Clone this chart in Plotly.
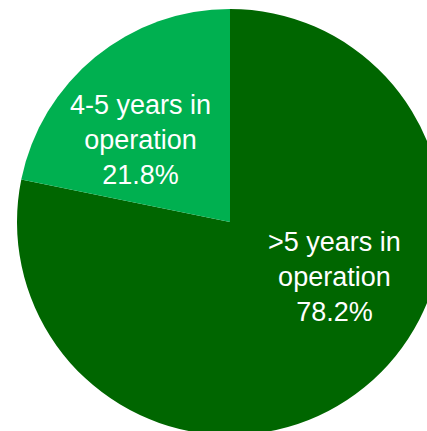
import plotly.graph_objects as go

categories = [">5 years in<br>operation", "4-5 years in<br>operation"]
values = [78.2, 21.8]
colors = ["#006600", "#00B050"]
label_pos = [(0.746, 0.371), (0.291, 0.692)]  # label centres, paper coords

fig = go.Figure(go.Pie(
    labels=categories,
    values=values,
    sort=False,
    direction="clockwise",
    rotation=0,
    marker=dict(colors=colors, line=dict(width=0)),
    textinfo="none",
    showlegend=False,
    hoverinfo="label+percent",
))

total = sum(values)
for cat, val, (px, py) in zip(categories, values, label_pos):
    fig.add_annotation(
        x=px, y=py, xref="paper", yref="paper",
        text=f"{cat}<br>{val / total * 100:.1f}%",
        showarrow=False, align="center",
        xanchor="center", yanchor="middle",
        font=dict(family="Liberation Sans, Arial, sans-serif", size=27, color="white"),
    )

fig.update_layout(
    width=460, height=444,
    margin=dict(l=17, r=17, t=9, b=9),
    paper_bgcolor="white",
    plot_bgcolor="white",
)

fig.write_html("out.html", config={"displayModeBar": False},
               post_script="document.body.style.margin='0';document.body.style.overflow='hidden';document.documentElement.style.overflow='hidden';")
